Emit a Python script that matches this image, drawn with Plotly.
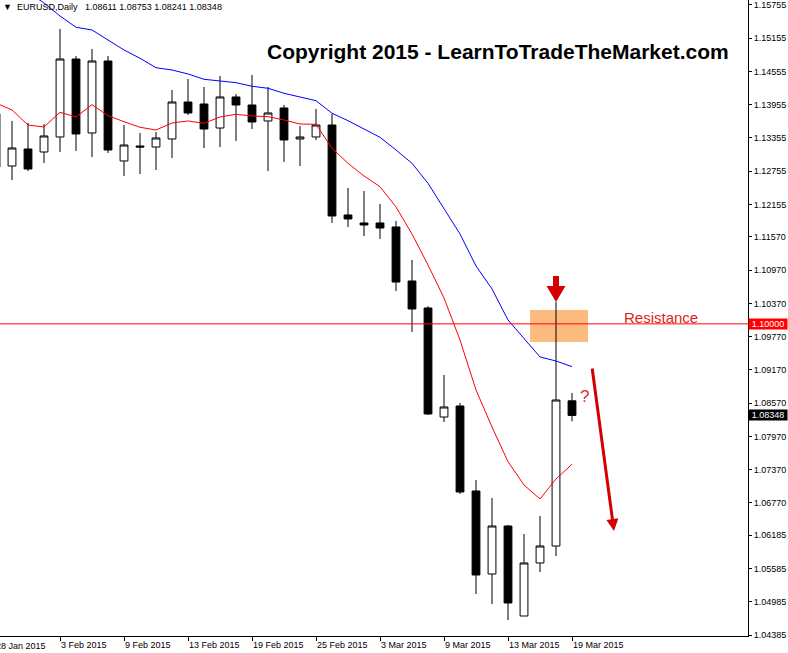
import plotly.graph_objects as go

# ---------------- data ----------------
dates = ["28 Jan", "29 Jan", "30 Jan", "2 Feb", "3 Feb", "4 Feb", "5 Feb", "6 Feb",
         "9 Feb", "10 Feb", "11 Feb", "12 Feb", "13 Feb", "16 Feb", "17 Feb", "18 Feb",
         "19 Feb", "20 Feb", "23 Feb", "24 Feb", "25 Feb", "26 Feb", "27 Feb", "2 Mar",
         "3 Mar", "4 Mar", "5 Mar", "6 Mar", "9 Mar", "10 Mar", "11 Mar", "12 Mar",
         "13 Mar", "16 Mar", "17 Mar", "18 Mar", "19 Mar"]
opens = [1.13788, 1.12849, 1.13156, 1.13102, 1.13373, 1.14780, 1.13445, 1.14744,
         1.12940, 1.13210, 1.13192, 1.13337, 1.14004, 1.13968, 1.13535, 1.14095,
         1.13950, 1.13662, 1.13896, 1.13337, 1.13373, 1.13589, 1.11965, 1.11821,
         1.11821, 1.11749, 1.10774, 1.10287, 1.08319, 1.08518, 1.06984, 1.05486,
         1.06352, 1.04728, 1.05685, 1.05991, 1.08611]
highs = [1.14200, 1.13662, 1.13625, 1.13607, 1.15322, 1.14835, 1.14961, 1.14835,
         1.13589, 1.13445, 1.13463, 1.14221, 1.14420, 1.14275, 1.14474, 1.14149,
         1.14492, 1.14275, 1.13950, 1.13571, 1.13878, 1.13788, 1.12452, 1.12398,
         1.12164, 1.11857, 1.11153, 1.10320, 1.09078, 1.08572, 1.07183, 1.06858,
         1.06371, 1.06208, 1.06533, 1.10395, 1.08753]
lows = [1.12650, 1.12597, 1.12759, 1.12904, 1.13102, 1.13120, 1.13012, 1.13084,
        1.12669, 1.12705, 1.12777, 1.12994, 1.13770, 1.13174, 1.13192, 1.13301,
        1.13517, 1.12759, 1.12922, 1.12849, 1.13319, 1.11821, 1.11749, 1.11586,
        1.11532, 1.10593, 1.09854, 1.08356, 1.08229, 1.06930, 1.05125, 1.04945,
        1.04656, 1.04728, 1.05522, 1.05811, 1.08241]
closes = [1.12831, 1.13174, 1.12795, 1.13391, 1.14780, 1.13427, 1.14744, 1.13138,
          1.13228, 1.13192, 1.13355, 1.14004, 1.13806, 1.13517, 1.14095, 1.13950,
          1.13643, 1.13806, 1.13319, 1.13373, 1.13589, 1.11947, 1.11893, 1.11785,
          1.11730, 1.10755, 1.10269, 1.08374, 1.08500, 1.06966, 1.05468, 1.06352,
          1.04963, 1.05685, 1.05991, 1.08626, 1.08348]
ma_fast = [1.13986, 1.13860, 1.13589, 1.13553, 1.13819, 1.13734, 1.13956, 1.13757,
           1.13649, 1.13548, 1.13499, 1.13625, 1.13662, 1.13620, 1.13734, 1.13782,
           1.13752, 1.13739, 1.13680, 1.13607, 1.13602, 1.13169, 1.12898, 1.12669,
           1.12476, 1.12110, 1.11622, 1.11063, 1.10467, 1.09709, 1.08807, 1.08139,
           1.07513, 1.07092, 1.06840, 1.07201, 1.07466]
ma_slow = [1.16351, 1.16170, 1.15989, 1.15791, 1.15556, 1.15353, 1.15304, 1.15123,
           1.14943, 1.14793, 1.14623, 1.14582, 1.14510, 1.14414, 1.14389, 1.14353,
           1.14288, 1.14252, 1.14161, 1.14100, 1.14028, 1.13801, 1.13667, 1.13517,
           1.13367, 1.13138, 1.12898, 1.12537, 1.12091, 1.11622, 1.11045, 1.10630,
           1.10070, 1.09745, 1.09403, 1.09330, 1.09228]
y_ticks = [1.15755, 1.15155, 1.14555, 1.13955, 1.13355, 1.12755, 1.12155, 1.11570,
           1.10970, 1.10370, 1.09770, 1.09170, 1.08570, 1.07970, 1.07370, 1.06770,
           1.06185, 1.05585, 1.04985, 1.04385]
x_label_idx = [4, 8, 12, 16, 20, 24, 28, 32, 36]
year = "2015"
symbol = "EURUSD,Daily"
resistance = 1.10000
zone_low, zone_high = 1.09673, 1.10251
zone_x0, zone_x1 = 33.375, 37.0
signal_bar = 35
target_from = (37.25, 1.09222)
target_to = (38.625, 1.06262)
question_pos = (36.81, 1.08690)
resistance_label_x = 39.125

x = list(range(len(dates)))
RED = "rgb(212,0,0)"
FONT = "Liberation Sans"

fig = go.Figure()
fig.add_trace(go.Scatter(x=x, y=ma_slow, mode="lines",
                         line=dict(color="rgb(0,0,255)", width=1), hoverinfo="skip"))
fig.add_trace(go.Scatter(x=x, y=ma_fast, mode="lines",
                         line=dict(color="rgb(255,0,0)", width=1), hoverinfo="skip"))
fig.add_trace(go.Candlestick(
    x=x, open=opens, high=highs, low=lows, close=closes,
    increasing=dict(line=dict(color="black", width=1), fillcolor="white"),
    decreasing=dict(line=dict(color="black", width=1), fillcolor="black"),
    whiskerwidth=0,
))

# resistance zone
fig.add_shape(type="rect", xref="x", yref="y", x0=zone_x0, x1=zone_x1,
              y0=zone_low, y1=zone_high, fillcolor="rgb(253,187,128)",
              line=dict(width=0), layer="below")
# resistance line
fig.add_shape(type="line", xref="paper", yref="y", x0=0, x1=1,
              y0=resistance, y1=resistance, line=dict(color="rgb(255,0,0)", width=1),
              layer="above")
# red down arrow above the signal bar (pixel offsets from its high)
fig.add_shape(type="path", xref="x", yref="y", xsizemode="pixel", ysizemode="pixel",
              xanchor=signal_bar, yanchor=highs[signal_bar],
              path="M -3,26 L 3,26 L 3,16 L 9.5,16 L 0,0 L -9.5,16 L -3,16 Z",
              fillcolor=RED, line=dict(width=0), layer="above")

annotations = [
    dict(xref="paper", yref="paper", x=0.0, y=1.0, xanchor="left", yanchor="top",
         xshift=1, yshift=0, showarrow=False,
         text="\u25BC\u00a0\u00a0" + symbol + "\u00a0\u00a0\u00a0" +
              " ".join(f"{v:.5f}" for v in (opens[-1], highs[-1], lows[-1], closes[-1])),
         font=dict(family=FONT, size=9, color="black")),
    dict(xref="paper", yref="paper", x=265 / 748, y=1 - 51 / 636, xanchor="left",
         yanchor="middle", showarrow=False,
         text="<b>Copyright 2015 - LearnToTradeTheMarket.com</b>",
         font=dict(family=FONT, size=21, color="black")),
    dict(xref="x", yref="y", x=resistance_label_x, y=resistance, xanchor="left",
         yanchor="bottom", yshift=-4, showarrow=False, text="Resistance",
         font=dict(family=FONT, size=15, color="rgb(220,30,30)")),
    dict(xref="x", yref="y", x=question_pos[0], y=question_pos[1], xanchor="center",
         yanchor="middle", showarrow=False, text="?",
         font=dict(family=FONT, size=17, color="rgb(220,40,40)")),
    dict(xref="x", yref="y", axref="x", ayref="y", x=target_to[0], y=target_to[1],
         ax=target_from[0], ay=target_from[1], text="", showarrow=True,
         arrowhead=2, arrowsize=0.8, arrowwidth=3, arrowcolor=RED),
    dict(xref="paper", yref="y", x=1.0, y=resistance, xanchor="left", yanchor="middle",
         showarrow=False, text=f"{resistance:.5f}", bgcolor="rgb(255,0,0)",
         width=38, height=10, borderpad=0, align="center",
         font=dict(family=FONT, size=9, color="white")),
    dict(xref="paper", yref="y", x=1.0, y=closes[-1], xanchor="left", yanchor="middle",
         showarrow=False, text=f"{closes[-1]:.5f}", bgcolor="black",
         width=38, height=10, borderpad=0, align="center",
         font=dict(family=FONT, size=9, color="white")),
    dict(xref="paper", yref="paper", x=0.0, y=0.0, xanchor="left", yanchor="top",
         xshift=-6, yshift=-3, showarrow=False, text=dates[0] + " " + year,
         font=dict(family=FONT, size=9, color="black")),
]

fig.update_layout(
    width=788, height=653,
    margin=dict(l=0, r=40, t=0, b=17),
    paper_bgcolor="white", plot_bgcolor="white",
    showlegend=False,
    annotations=annotations,
    xaxis=dict(
        range=[0.25, 47.0], showgrid=False, zeroline=False,
        rangeslider=dict(visible=False),
        tickvals=x_label_idx, ticktext=[dates[i] + " " + year for i in x_label_idx],
        ticks="outside", ticklen=4, tickcolor="black",
        ticklabelposition="outside right",
        showline=True, linecolor="black", linewidth=1,
        tickfont=dict(family=FONT, size=9, color="black"),
    ),
    yaxis=dict(
        range=[1.04367, 1.15845], side="right", showgrid=False, zeroline=False,
        tickvals=y_ticks, ticktext=[f"{v:.5f}" for v in y_ticks],
        ticks="outside", ticklen=3, tickcolor="black",
        showline=True, linecolor="black", linewidth=1,
        tickfont=dict(family=FONT, size=9, color="black"),
    ),
)

fig.write_html("out.html", config={"displayModeBar": False},
               post_script="document.body.style.margin='0';document.body.style.overflow='hidden';")
